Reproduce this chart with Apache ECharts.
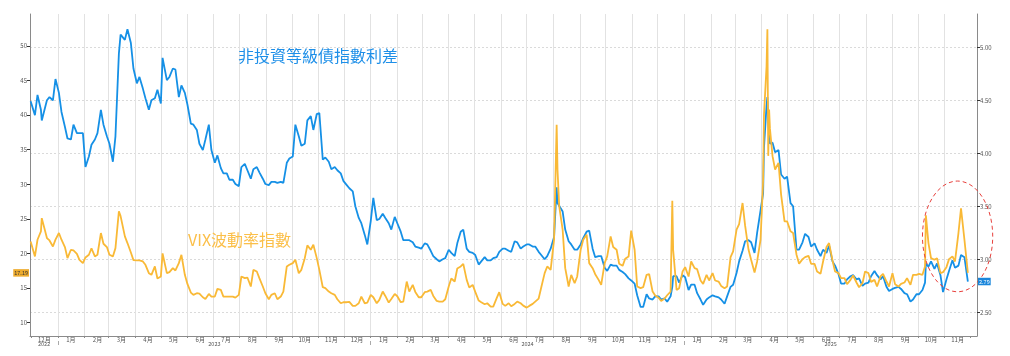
<!DOCTYPE html>
<html><head><meta charset="utf-8">
<script src="https://cdn.jsdelivr.net/npm/echarts@6/dist/echarts.min.js"></script>
<style>html,body{margin:0;padding:0;background:#fff}#c{width:1010px;height:356px}</style>
</head><body><div id="c"></div>
<script>
// ---- data ----
const firstDate = '2022-11-30';
const firstMonday = [2022, 11, 5];   // weekly (Monday) readings start here
const mondayCount = 156;
const lastDate = '2025-11-28';

// 非投資等級債指數利差 (right axis), Monday readings
const spread = [4.49,
 4.36,4.41,4.50,4.50,
 4.57,4.25,4.13,4.19,4.19,3.97,4.13,4.41,4.16,3.92,4.94,5.07,5.04,4.66,4.61,4.41,4.52,4.47,4.69,4.80,4.53,4.57,
 4.28,4.22,4.03,4.27,3.91,3.86,3.81,3.75,3.69,3.90,3.76,3.87,3.76,3.70,3.73,3.73,3.91,3.97,4.16,4.09,4.35,4.37,
 3.94,3.92,3.87,3.81,3.70,3.64,3.39,3.23,
 3.36,3.37,3.43,3.34,3.40,3.26,3.18,3.16,3.11,3.15,3.08,3.00,3.00,3.09,3.03,3.26,3.10,3.06,2.95,3.02,2.99,3.02,
 3.10,3.08,3.17,3.10,3.14,3.12,3.07,3.00,3.10,3.68,3.45,3.17,3.09,3.14,3.26,3.10,3.03,2.92,2.95,2.94,2.88,2.82,
 2.77,2.55,2.67,2.62,2.65,2.63,2.65,2.84,2.85,
 2.71,2.76,2.62,2.62,2.66,2.64,2.58,2.74,2.87,3.08,3.18,3.06,3.46,4.45,4.10,4.03,3.76,3.53,3.09,3.16,3.21,3.15,
 3.03,3.06,2.98,2.86,2.77,2.84,2.81,2.75,2.78,2.89,2.81,2.74,2.72,2.74,2.68,2.60,2.67,2.71,2.93,2.91,2.85,2.81,
 2.99,2.94,3.02,
 2.79];

// VIX波動率指數 (left axis), Monday readings
const vix = [21.74,
 19.57,23.19,22.22,21.01,
 22.95,20.92,20.53,19.95,18.60,19.81,19.57,22.95,20.92,19.57,26.10,22.46,20.14,18.99,18.84,17.15,18.12,16.67,17.15,17.87,18.60,16.91,
 14.35,14.25,13.67,14.15,13.77,14.73,13.77,13.77,14.01,16.43,15.22,17.39,15.22,13.38,14.25,13.77,18.12,18.60,17.15,19.32,20.53,19.32,
 15.12,14.49,14.01,12.80,12.95,12.42,12.80,12.80,
 14.01,12.80,14.49,12.90,14.15,12.95,15.94,15.46,13.67,14.40,14.73,13.14,13.04,15.22,15.94,18.12,16.18,15.46,13.19,12.66,12.32,13.53,
 12.71,12.80,12.71,12.80,12.17,12.71,13.48,17.15,17.63,38.60,23.43,15.22,15.70,20.53,22.71,17.87,16.18,18.60,22.46,20.53,18.21,19.57,
 20.53,14.98,16.91,14.49,13.60,13.48,14.49,14.73,17.39,
 16.67,17.87,16.09,16.91,17.15,15.94,14.98,19.47,23.43,27.29,20.53,17.25,21.98,47.00,34.06,33.09,24.64,23.19,19.81,19.18,19.66,18.50,
 17.05,20.92,18.99,17.15,16.43,16.18,15.80,15.70,17.15,16.18,16.67,15.94,17.15,15.22,15.80,15.46,16.91,16.91,21.50,19.08,17.15,18.02,
 19.57,22.95,21.98,
 17.19];

// mid-week and peak readings
const extraDates = [
 '2022-12-08','2022-12-13','2022-12-22','2022-12-29',
 '2023-01-05','2023-01-12','2023-01-19','2023-01-26','2023-02-02','2023-02-09','2023-02-16','2023-02-23','2023-03-02','2023-03-09',
 '2023-03-15','2023-03-23','2023-03-30','2023-04-06','2023-04-13','2023-04-20','2023-04-27','2023-05-03','2023-05-11','2023-05-18',
 '2023-05-25','2023-06-01','2023-06-08','2023-06-15','2023-06-22','2023-06-29','2023-07-06','2023-07-13','2023-07-20','2023-07-27',
 '2023-08-03','2023-08-10','2023-08-17','2023-08-24','2023-08-31','2023-09-07','2023-09-14','2023-09-21','2023-09-28','2023-10-05',
 '2023-10-12','2023-10-19','2023-10-26','2023-11-02','2023-11-09','2023-11-16','2023-11-23','2023-11-30',
 '2023-12-07','2023-12-14','2023-12-21','2023-12-28',
 '2024-01-04','2024-01-11','2024-01-18','2024-01-25','2024-02-01','2024-02-08','2024-02-15','2024-02-22','2024-02-29','2024-03-07',
 '2024-03-14','2024-03-21','2024-03-28','2024-04-04','2024-04-11','2024-04-18','2024-04-25','2024-05-02','2024-05-09','2024-05-16',
 '2024-05-23','2024-05-30','2024-06-06','2024-06-13','2024-06-20','2024-06-27','2024-07-04','2024-07-11','2024-07-18','2024-07-25',
 '2024-08-02','2024-08-06','2024-08-08','2024-08-15','2024-08-22','2024-08-29','2024-09-05','2024-09-12','2024-09-19','2024-09-26',
 '2024-10-03','2024-10-10','2024-10-17','2024-10-24','2024-10-31','2024-11-07','2024-11-14','2024-11-21','2024-11-28',
 '2024-12-05','2024-12-12','2024-12-18','2024-12-19','2024-12-26',
 '2025-01-02','2025-01-09','2025-01-16','2025-01-23','2025-01-30','2025-02-06','2025-02-13','2025-02-20','2025-02-27','2025-03-06',
 '2025-03-13','2025-03-20','2025-03-27','2025-04-03','2025-04-04','2025-04-08','2025-04-09','2025-04-10','2025-04-11','2025-04-17',
 '2025-04-24','2025-05-01','2025-05-08','2025-05-15','2025-05-22','2025-05-29','2025-06-05','2025-06-12','2025-06-19','2025-06-26',
 '2025-07-03','2025-07-10','2025-07-17','2025-07-24','2025-07-31','2025-08-07','2025-08-14','2025-08-21','2025-08-28','2025-09-04',
 '2025-09-11','2025-09-18','2025-09-25','2025-10-02','2025-10-09','2025-10-10','2025-10-16','2025-10-23','2025-10-30','2025-11-06',
 '2025-11-13','2025-11-20'];
const extraSpread = [
 4.55,4.31,4.53,4.70,
 4.39,4.14,4.27,4.19,3.87,4.08,4.19,4.27,4.09,4.16,
 5.12,5.17,4.80,4.72,4.52,4.50,4.60,4.90,4.72,4.79,
 4.64,4.46,4.27,4.09,4.13,4.03,3.98,3.81,3.75,3.71,
 3.87,3.84,3.85,3.82,3.71,3.73,3.72,3.72,3.95,4.27,
 4.07,4.31,4.22,4.38,3.96,3.85,3.84,3.74,
 3.67,3.50,3.34,3.14,
 3.58,3.38,3.39,3.28,3.34,3.18,3.18,3.12,3.10,3.14,
 3.03,2.98,3.01,3.06,3.15,3.28,3.07,3.04,2.98,2.99,
 3.01,3.07,3.10,3.07,3.16,3.12,3.14,3.12,3.04,3.03,
 3.21,3.53,3.53,3.28,3.14,3.09,3.20,3.27,3.02,3.03,
 2.89,2.94,2.90,2.86,2.80,2.66,2.55,2.63,2.65,
 2.62,2.60,2.74,2.84,2.78,
 2.83,2.76,2.68,2.57,2.64,2.65,2.62,2.65,2.76,2.98,
 3.17,3.16,3.25,3.62,4.05,4.53,4.31,4.17,4.09,4.01,
 3.80,3.78,3.50,3.09,3.24,3.12,3.09,3.09,3.13,2.94,
 2.77,2.81,2.85,2.82,2.77,2.84,2.85,2.84,2.70,2.73,
 2.72,2.67,2.62,2.67,2.78,2.96,2.98,2.96,2.69,2.89,
 2.92,3.04];
const extraVix = [
 21.98,25.10,21.88,22.00,
 21.98,19.32,20.43,19.08,19.42,20.72,19.81,21.40,19.81,20.77,
 25.40,21.50,19.03,18.99,18.36,16.91,16.38,20.00,17.29,17.54,
 19.80,15.60,14.01,14.20,13.43,13.77,14.88,13.77,13.77,13.62,
 16.67,16.52,17.63,16.43,14.25,14.01,13.38,14.49,18.36,19.08,
 17.63,21.16,21.26,17.63,14.98,14.25,13.38,12.95,
 13.00,12.42,13.77,12.90,
 13.67,13.29,13.86,13.43,13.82,13.04,14.49,14.44,13.67,14.49,
 13.86,13.04,13.38,16.38,17.83,18.50,15.07,14.44,12.95,12.80,
 12.32,14.40,12.42,12.37,13.04,12.46,12.42,13.04,15.07,18.12,
 22.00,32.10,26.81,17.87,16.91,16.67,21.98,18.60,17.00,15.46,
 19.57,20.92,18.50,19.23,23.30,15.22,15.12,17.00,13.91,
 13.14,13.96,27.60,20.50,14.98,
 18.02,18.84,17.73,15.60,16.09,16.09,15.31,15.22,20.29,24.25,
 24.01,19.08,18.84,30.50,40.00,52.40,34.10,40.80,38.00,32.13,
 28.50,24.64,22.95,18.50,19.47,18.50,17.39,18.84,21.50,17.39,
 16.43,15.56,16.81,15.12,17.39,15.89,15.22,17.05,15.22,15.56,
 15.60,16.43,16.91,17.05,18.12,25.50,19.32,19.32,17.29,19.18,
 18.84,26.50];

const spreadName = '非投資等級債指數利差';
const vixName = 'VIX波動率指數';
const monthSuffix = '月';

// ---- build ----
function parseDay(s){ const p = s.split('-').map(Number); return new Date(p[0], p[1]-1, p[2]).getTime(); }
const dates = [parseDay(firstDate)];
for (let i = 0; i < mondayCount; i++) dates.push(new Date(firstMonday[0], firstMonday[1], firstMonday[2] + 7*i).getTime());
dates.push(parseDay(lastDate));

let rows = dates.map((d, i) => [d, spread[i], vix[i]]);
extraDates.forEach((s, i) => rows.push([parseDay(s), extraSpread[i], extraVix[i]]));
rows.sort((a, b) => a[0] - b[0]);
const spreadData = rows.map(r => [r[0], r[1]]);
const vixData = rows.map(r => [r[0], r[2]]);

const xMin = new Date(2022, 10, 29, 6).getTime();
const xMax = new Date(2025, 11, 8, 16).getTime();

const monthTicks = [];
for (let m = 0; m <= 36; m++) monthTicks.push(new Date(2022, 11 + m, 1).getTime());
const monthLabels = [];
for (let m = 0; m < 36; m++) monthLabels.push(new Date(2022, 11 + m, 16).getTime());
const yearStarts = [2023, 2024, 2025].map(y => new Date(y, 0, 1).getTime());
const yearCenters = [
  (xMin + yearStarts[0]) / 2,
  (yearStarts[0] + yearStarts[1]) / 2,
  (yearStarts[1] + yearStarts[2]) / 2,
  (yearStarts[2] + xMax) / 2
];

const BLUE = '#1590e6';
const ORANGE = '#f9b936';
const AX = '#8a8a8a';
const LBL = '#555';
const FONT = '"Noto Sans CJK TC", "Noto Sans", sans-serif';

const chart = echarts.init(document.getElementById('c'), null, {renderer: 'canvas'});
chart.setOption({
  animation: false,
  backgroundColor: '#fff',
  textStyle: {fontFamily: FONT},
  grid: {left: 30, right: 33, top: 14, bottom: 20, containLabel: false, outerBoundsMode: 'none'},
  xAxis: [{
    type: 'value', min: xMin, max: xMax, gridIndex: 0,
    axisLine: {show: true, lineStyle: {color: AX, width: 1}},
    axisTick: {show: true, length: 2, lineStyle: {color: AX}, customValues: monthTicks},
    splitLine: {show: true, showMinLine: false, showMaxLine: false, lineStyle: {color: '#e2e2e2', width: 1}},
    axisLabel: {customValues: monthLabels, fontSize: 6, color: LBL, margin: 1,
      formatter: v => (new Date(v).getMonth() + 1) + monthSuffix}
  }, {
    type: 'value', min: xMin, max: xMax, gridIndex: 0, position: 'bottom', offset: 5,
    axisLine: {show: false},
    axisTick: {show: true, length: 4, lineStyle: {color: '#aaa', type: 'dashed'}, customValues: yearStarts},
    splitLine: {show: false},
    axisLabel: {customValues: yearCenters, fontSize: 5.5, color: LBL, margin: 0,
      formatter: v => String(new Date(v).getFullYear())}
  }],
  yAxis: [{
    type: 'value', position: 'left', min: 8.07, max: 54.6, splitNumber: 9, minInterval: 5, maxInterval: 5,
    axisLine: {show: true, lineStyle: {color: AX}},
    axisTick: {show: true, length: 3, lineStyle: {color: '#333'}},
    splitLine: {show: false},
    axisLabel: {fontSize: 6, color: LBL, margin: 3, showMinLabel: false, showMaxLabel: false}
  }, {
    type: 'value', position: 'right', min: 2.276, max: 5.314, splitNumber: 6, minInterval: 0.5, maxInterval: 0.5,
    axisLine: {show: true, lineStyle: {color: AX}},
    axisTick: {show: true, length: 3, lineStyle: {color: '#333'}},
    splitLine: {show: true, showMinLine: false, showMaxLine: false, lineStyle: {color: '#dadada', type: [2, 2], width: 1}},
    axisLabel: {fontSize: 6, color: LBL, margin: 3, showMinLabel: false, showMaxLabel: false,
      formatter: v => v.toFixed(2)}
  }],
  series: [{
    name: spreadName, type: 'line', xAxisIndex: 0, yAxisIndex: 1, data: spreadData,
    showSymbol: false, symbol: 'none', smooth: false,
    lineStyle: {color: BLUE, width: 1.8}, z: 3
  }, {
    name: vixName, type: 'line', xAxisIndex: 0, yAxisIndex: 0, data: vixData,
    showSymbol: false, symbol: 'none', smooth: false,
    lineStyle: {color: ORANGE, width: 1.8}, z: 4
  }]
});

// annotations
const gLeft = chart.convertToPixel({xAxisIndex: 0, yAxisIndex: 0}, [xMin, vix[vix.length - 1]]);
const gRight = chart.convertToPixel({xAxisIndex: 0, yAxisIndex: 1}, [xMax, spread[spread.length - 1]]);
const eC = chart.convertToPixel({xAxisIndex: 0, yAxisIndex: 0}, [parseDay('2025-11-16'), 22.46]);
const eE = chart.convertToPixel({xAxisIndex: 0, yAxisIndex: 0}, [parseDay('2025-10-06'), 30.46]);
const rx = eC[0] - eE[0], ry = eC[1] - eE[1];

chart.setOption({
  graphic: [
    {type: 'text', left: 238, top: 48, style: {text: spreadName, fill: '#1e8fe8', font: '16px ' + FONT}, z: 10},
    {type: 'text', left: 188, top: 232, style: {text: vixName, fill: '#fbbf49', font: '16px ' + FONT}, z: 10},
    {type: 'ellipse', shape: {cx: eC[0], cy: eC[1], rx: rx, ry: ry},
      style: {fill: 'none', stroke: '#e8403c', lineWidth: 1, lineDash: [4, 3]}, z: 10},
    {type: 'text', x: gLeft[0] - 1, y: gLeft[1], style: {text: vix[vix.length - 1].toFixed(2), fill: '#333',
      font: '5.5px ' + FONT, align: 'right', verticalAlign: 'middle', backgroundColor: '#eeac2e', padding: [1, 1]}, z: 10},
    {type: 'text', x: gRight[0] + 1, y: gRight[1], style: {text: spread[spread.length - 1].toFixed(2), fill: '#fff',
      font: '5.5px ' + FONT, align: 'left', verticalAlign: 'middle', backgroundColor: '#1a86db', padding: [1, 1]}, z: 10}
  ]
});
</script></body></html>
